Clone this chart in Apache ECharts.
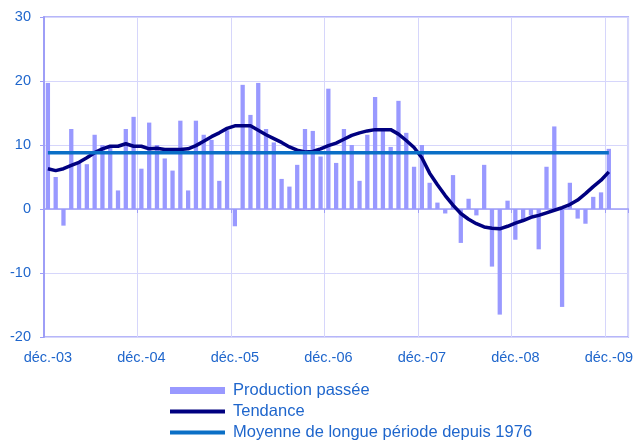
<!DOCTYPE html>
<html>
<head>
<meta charset="utf-8">
<script src="https://cdn.jsdelivr.net/npm/echarts@6/dist/echarts.min.js"></script>
<style>
    html, body { margin: 0; padding: 0; background: #fff; }
    #chart { width: 636px; height: 443px; }
</style>
</head>
<body>
<div id="chart"></div>
<script>
// noms des mois (axe des catégories : déc.-03 -> févr.-10)
const moisNoms = ['janv.', 'févr.', 'mars', 'avr.', 'mai', 'juin', 'juil.', 'août', 'sept.', 'oct.', 'nov.', 'déc.'];
const nbMois = 75;

// production passée, solde mensuel (déc.-03 -> déc.-09)
const production = [
    19.7, 5.0, -2.6, 12.5, 7.3, 7.0, 11.6, 10.0, 9.9, 2.9, 12.5, 14.4,
    6.3, 13.5, 10.0, 7.9, 6.0, 13.8, 2.9, 13.8, 11.6, 10.8, 4.4, 12.3,
    -2.7, 19.4, 14.7, 19.7, 12.5, 10.4, 4.7, 3.5, 6.9, 12.5, 12.2, 8.2,
    18.8, 7.2, 12.5, 10.0, 4.4, 11.6, 17.5, 12.2, 9.7, 16.9, 11.9, 6.6,
    10.0, 4.1, 1.0, -0.7, 5.3, -5.3, 1.6, -1.0, 6.9, -9.0, -16.5, 1.3,
    -4.8, -1.7, -1.0, -6.3, 6.6, 12.9, -15.3, 4.1, -1.5, -2.3, 1.9, 2.6,
    9.4
];

// tendance lissée
const tendance = [
    6.3, 6.0, 6.3, 6.8, 7.3, 8.0, 8.8, 9.4, 9.8, 9.8, 10.2, 9.8,
    9.8, 9.4, 9.5, 9.3, 9.3, 9.3, 9.4, 9.9, 10.6, 11.3, 11.9, 12.6,
    13.0, 13.0, 13.0, 12.3, 11.6, 11.0, 10.4, 9.7, 9.2, 8.9, 9.0, 9.4,
    9.9, 10.3, 10.9, 11.5, 11.9, 12.2, 12.4, 12.4, 12.4, 11.7, 10.7, 9.6,
    8.0, 5.6, 3.8, 2.1, 0.6, -0.7, -1.6, -2.3, -2.8, -3.0, -3.1, -2.7,
    -2.2, -1.8, -1.3, -1.0, -0.6, -0.2, 0.2, 0.7, 1.4, 2.4, 3.5, 4.5,
    5.8
];

// moyenne de longue période depuis 1976
const moyenne = 8.8;
const moyenneDebut = 'déc.-03';
const moyenneFin = 'déc.-09';

const yTicks = { min: -20, max: 30, interval: 10 };

function initChart() {
    const categories = [];
    for (let k = 0; k < nbMois; k++) {
        const m = (11 + k) % 12;
        const an = 2003 + Math.floor((11 + k) / 12);
        categories.push(moisNoms[m] + '-' + String(an).slice(2));
    }
    const decembre = function (i) { return i % 12 === 0; };
    const bleuTexte = '#1f66cc';
    const lavande = '#9e9ef7';
    const grille = '#d6d6fb';
    // icone de légende : trait plein au milieu d'une boîte 55 x 7
    const iconeTrait = 'path://M0,0L0.01,0L0,0Z M0,7L0.01,7L0,7Z M55,0L54.99,0L55,0Z M0,1.6H55V5.4H0Z';

    const chart = echarts.init(document.getElementById('chart'));
    chart.setOption({
        animation: false,
        textStyle: { fontFamily: 'Liberation Sans, Arial, sans-serif' },
        grid: {
            left: 44,
            right: 6,
            top: 17,
            bottom: 106,
            show: true,
            borderColor: lavande,
            borderWidth: 1.5
        },
        legend: {
            orient: 'vertical',
            left: 165,
            top: 377,
            height: 70,
            itemWidth: 55,
            itemHeight: 7,
            itemGap: 4,
            textStyle: { fontSize: 16.5, lineHeight: 17, color: bleuTexte, padding: [0, 0, 0, 3] },
            data: [
                { name: 'Production passée', icon: 'rect' },
                { name: 'Tendance', icon: iconeTrait },
                { name: 'Moyenne de longue période depuis 1976', icon: iconeTrait }
            ]
        },
        xAxis: [{
            type: 'category',
            data: categories,
            boundaryGap: true,
            position: 'bottom',
            axisLine: { show: false, onZero: false },
            axisTick: { show: false },
            axisLabel: {
                interval: decembre,
                color: bleuTexte,
                fontSize: 14.5,
                margin: 13
            },
            splitLine: {
                show: true,
                interval: decembre,
                lineStyle: { color: grille, width: 1 }
            }
        }, {
            type: 'category',
            data: categories,
            boundaryGap: true,
            position: 'top',
            axisLine: { show: true, onZero: true, lineStyle: { color: lavande, width: 1.5 } },
            axisTick: { show: true, inside: true, length: 4, interval: decembre, lineStyle: { color: lavande } },
            axisLabel: { show: false },
            splitLine: { show: false }
        }],
        yAxis: {
            type: 'value',
            min: yTicks.min,
            max: yTicks.max,
            interval: yTicks.interval,
            axisLine: { show: true, lineStyle: { color: lavande, width: 2 } },
            axisTick: { show: true, length: 4, lineStyle: { color: lavande } },
            axisLabel: { color: bleuTexte, fontSize: 14.5, margin: 13 },
            splitLine: { lineStyle: { color: grille, width: 1 } }
        },
        series: [
            {
                name: 'Production passée',
                type: 'bar',
                data: production,
                barWidth: '55%',
                itemStyle: { color: '#9999ff' }
            },
            {
                name: 'Tendance',
                type: 'line',
                data: tendance,
                symbol: 'none',
                lineStyle: { color: '#000080', width: 3.5 },
                itemStyle: { color: '#000080' }
            },
            {
                name: 'Moyenne de longue période depuis 1976',
                type: 'line',
                data: [[moyenneDebut, moyenne], [moyenneFin, moyenne]],
                symbol: 'none',
                lineStyle: { color: '#0a6fc6', width: 3.5 },
                itemStyle: { color: '#0a6fc6' }
            }
        ]
    });
}

document.addEventListener('DOMContentLoaded', initChart);
</script>
</body>
</html>
